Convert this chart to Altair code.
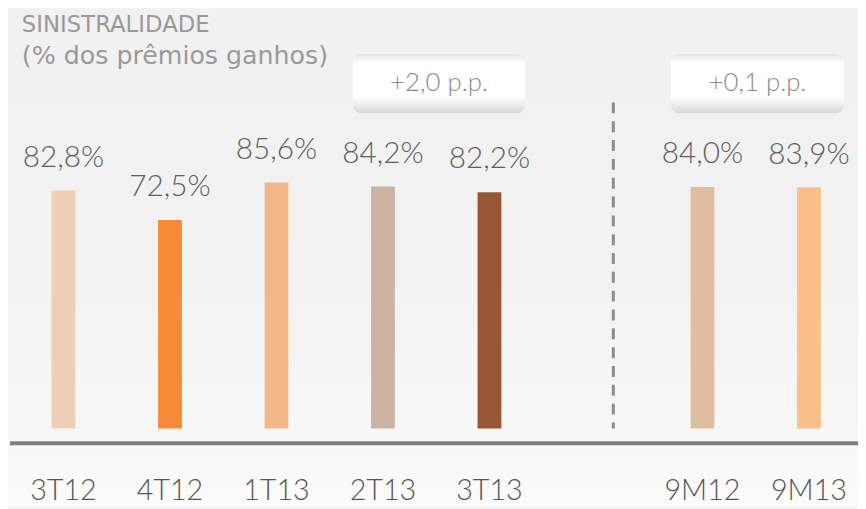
import altair as alt
import pandas as pd

# ---- data ----
categories = ["3T12", "4T12", "1T13", "2T13", "3T13", "9M12", "9M13"]
values = [82.8, 72.5, 85.6, 84.2, 82.2, 84.0, 83.9]
colors = ["#EECFB8", "#F68A36", "#F3B88A", "#CDB3A1", "#985637", "#DFBDA0", "#FBBF8A"]
slot_domain = ["3T12", "4T12", "1T13", "2T13", "3T13", " ", "9M12", "9M13"]
deltas = ["+2,0 p.p.", "+0,1 p.p."]
title_lines = ["SINISTRALIDADE", "(% dos prêmios ganhos)"]

W, H = 858, 501
FONT = "Lato"

df = pd.DataFrame({
    "cat": categories,
    "val": values,
    "color": colors,
    "label": [f"{v:.1f}".replace(".", ",") + "%" for v in values],
    "zero": [0.0] * len(values),
})

xscale = alt.Scale(type="point", domain=slot_domain, range=[56, 808.5], padding=0)
yscale = alt.Scale(domain=[-27.24, 145.52], zero=False, nice=False)

one = pd.DataFrame({"a": [0]})

bg_grad = alt.Gradient(
    gradient="linear",
    stops=[alt.GradientStop(color="#f1f1f1", offset=0),
           alt.GradientStop(color="#f2f2f2", offset=0.55),
           alt.GradientStop(color="#f7f7f7", offset=0.82),
           alt.GradientStop(color="#fbfbfb", offset=1)],
    x1=0, x2=0, y1=0, y2=1,
)
bg = alt.Chart(one).mark_rect(fill=bg_grad).encode(
    x=alt.value(0), x2=alt.value(W), y=alt.value(0), y2=alt.value(H)
)

box_grad = alt.Gradient(
    gradient="linear",
    stops=[alt.GradientStop(color="#e4e4e4", offset=0),
           alt.GradientStop(color="#ffffff", offset=0.15),
           alt.GradientStop(color="#ffffff", offset=0.72),
           alt.GradientStop(color="#d8d8d8", offset=1)],
    x1=0, x2=0, y1=0, y2=1,
)
box_x = [(348, 522), (669, 844)]
boxes = []
for (bx1, bx2), txt in zip(box_x, deltas):
    boxes.append(
        alt.Chart(one).mark_rect(fill=box_grad, cornerRadius=9).encode(
            x=alt.value(bx1), x2=alt.value(bx2), y=alt.value(44), y2=alt.value(104)
        )
    )
    boxes.append(
        alt.Chart(pd.DataFrame({"t": [txt]})).mark_text(
            font=FONT, fontWeight=300, fontSize=26, color="#8a8a8a",
            align="center", baseline="alphabetic"
        ).encode(x=alt.value((bx1 + bx2) / 2), y=alt.value(81), text="t:N")
    )

divider = alt.Chart(one).mark_rule(
    color="#8c8c8c", strokeWidth=3, strokeDash=[11, 8]
).encode(x=alt.value(611), y=alt.value(93), y2=alt.value(422))

bars = alt.Chart(df).mark_bar(size=24).encode(
    x=alt.X("cat:N", scale=xscale, axis=None),
    y=alt.Y("val:Q", scale=yscale, axis=None),
    y2="zero:Q",
    color=alt.Color("color:N", scale=None, legend=None),
)

vlabels = alt.Chart(df).mark_text(
    font=FONT, fontWeight=300, fontSize=30, color="#606060",
    align="center", baseline="alphabetic", dy=-24
).encode(
    x=alt.X("cat:N", scale=xscale, axis=None),
    y=alt.Y("val:Q", scale=yscale, axis=None),
    text="label:N",
)

axis_line = alt.Chart(one).mark_rule(color="#808080", strokeWidth=4).encode(
    x=alt.value(2), x2=alt.value(W), y=alt.value(437)
)

clabels = alt.Chart(df).mark_text(
    font=FONT, fontWeight=300, fontSize=29, color="#555555",
    align="center", baseline="alphabetic"
).encode(
    x=alt.X("cat:N", scale=xscale, axis=None),
    y=alt.value(494),
    text="cat:N",
)

titles = []
for txt, yy, fs in zip(title_lines, [22, 54], [23, 25.5]):
    titles.append(
        alt.Chart(pd.DataFrame({"t": [txt]})).mark_text(
            font="DejaVu Sans", fontSize=fs, color="#9a9a9a", align="left", baseline="alphabetic"
        ).encode(x=alt.value(14), y=alt.value(yy), text="t:N")
    )

chart = alt.layer(bg, *boxes, divider, bars, vlabels, axis_line, clabels, *titles).properties(
    width=W, height=H,
    autosize=alt.AutoSizeParams(type="none"),
    padding=0,
    background="#f2f2f2",
).configure_view(stroke=None)

chart.save("out.html", embed_options={"renderer": "svg", "actions": False})
